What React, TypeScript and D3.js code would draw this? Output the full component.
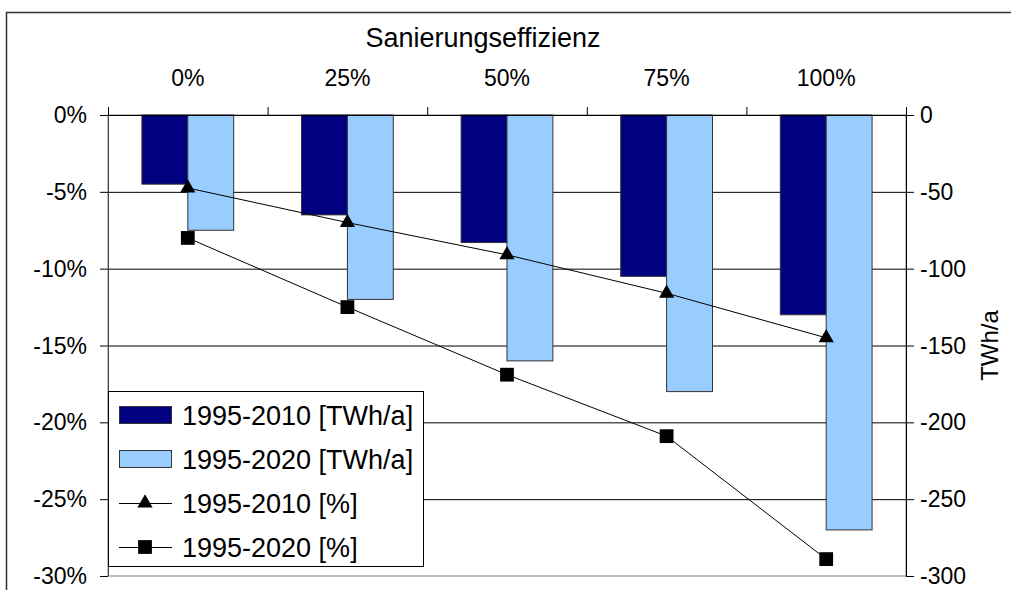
import React from 'react';
import * as d3 from 'd3';

const categories = ['0%', '25%', '50%', '75%', '100%'];
const twh2010 = [-45, -65, -83, -105, -130];
const twh2020 = [-75, -120, -160, -180, -270];
const pct2010 = [-4.75, -7.0, -9.1, -11.6, -14.5];
const pct2020 = [-8.0, -12.5, -16.9, -20.9, -28.9];
const leftTicks = [0, -5, -10, -15, -20, -25, -30];
const rightTicks = [0, -50, -100, -150, -200, -250, -300];
const legendLabels = ['1995-2010 [TWh/a]', '1995-2020 [TWh/a]', '1995-2010 [%]', '1995-2020 [%]'];

const W = 1011;
const H = 590;
const plot = { left: 108, right: 906, top: 115, bottom: 576 };
const font = 'Arial, "Liberation Sans", sans-serif';

export default function App() {
  const x = d3.scaleBand().domain(categories).range([plot.left, plot.right]);
  const yPct = d3.scaleLinear().domain([-30, 0]).range([plot.bottom, plot.top]);
  const yTwh = d3.scaleLinear().domain([-300, 0]).range([plot.bottom, plot.top]);
  const barW = x.bandwidth() * 0.2875;
  const mid = (c: string) => (x(c) as number) + x.bandwidth() / 2;

  const line = d3
    .line<number>()
    .x((_, i) => mid(categories[i]))
    .y((d) => yPct(d));
  const tri = d3.symbol(d3.symbolTriangle, 100)() as string;
  const sq = d3.symbol(d3.symbolSquare, 190)() as string;

  const bounds = x.domain().map((c) => x(c) as number).concat([plot.right]);

  return (
    <svg width={W} height={H} style={{ position: 'absolute', left: 0, top: 0 }} fontFamily={font}>
      <rect x={0} y={0} width={W} height={H} fill="#fff" />
      {/* chart frame, runs past the picture on the right and bottom */}
      <rect x={6.5} y={12.5} width={W + 20} height={H + 20} fill="none" stroke="#333" strokeWidth={1.5} />

      <text x={483} y={47} textAnchor="middle" fontSize={27}>Sanierungseffizienz</text>
      {categories.map((c) => (
        <text key={c} x={mid(c)} y={86} textAnchor="middle" fontSize={23}>{c}</text>
      ))}

      <rect x={plot.left} y={plot.top} width={plot.right - plot.left} height={plot.bottom - plot.top} fill="none" stroke="#808080" />

      {/* gridlines + left ticks */}
      {leftTicks.map((t) => (
        <g key={t}>
          {t !== -30 && (
            <line x1={plot.left - 8} x2={plot.right} y1={yPct(t) + 0.5} y2={yPct(t) + 0.5} stroke="#000" />
          )}
          {t === -30 && <line x1={plot.left - 8} x2={plot.left} y1={yPct(t) + 0.5} y2={yPct(t) + 0.5} stroke="#000" />}
          <text x={87} y={yPct(t) + 8} textAnchor="end" fontSize={23}>{t + '%'}</text>
        </g>
      ))}

      {/* right axis */}
      <line x1={plot.right + 0.5} x2={plot.right + 0.5} y1={plot.top} y2={plot.bottom} stroke="#000" />
      {rightTicks.map((t) => (
        <g key={t}>
          <line x1={plot.right} x2={plot.right + 8} y1={yTwh(t) + 0.5} y2={yTwh(t) + 0.5} stroke="#000" />
          <text x={920} y={yTwh(t) + 8} fontSize={23}>{t}</text>
        </g>
      ))}
      <text transform={`translate(998,${(plot.top + plot.bottom) / 2}) rotate(-90)`} textAnchor="middle" fontSize={24}>TWh/a</text>

      {/* bars */}
      {categories.map((c, i) => (
        <g key={c}>
          <rect x={mid(c) - barW} y={yTwh(0)} width={barW} height={yTwh(twh2010[i]) - yTwh(0)} fill="#000080" stroke="#333" strokeWidth={1} />
          <rect x={mid(c)} y={yTwh(0)} width={barW} height={yTwh(twh2020[i]) - yTwh(0)} fill="#99CCFF" stroke="#333" strokeWidth={1} />
        </g>
      ))}

      {/* left axis + category ticks */}
      <line x1={plot.left + 0.5} x2={plot.left + 0.5} y1={plot.top} y2={plot.bottom} stroke="#444" />
      <line x1={plot.left} x2={plot.right} y1={plot.top + 0.5} y2={plot.top + 0.5} stroke="#000" />
      {bounds.map((b, i) => (
        <line key={i} x1={b + 0.5} x2={b + 0.5} y1={plot.top - 8} y2={plot.top} stroke="#000" />
      ))}

      {/* lines */}
      <path d={line(pct2010) as string} fill="none" stroke="#000" strokeWidth={1} />
      <path d={line(pct2020) as string} fill="none" stroke="#000" strokeWidth={1} />
      {categories.map((c, i) => (
        <g key={c}>
          <path d={tri} transform={`translate(${mid(c)},${yPct(pct2010[i])})`} fill="#000" />
          <path d={sq} transform={`translate(${mid(c)},${yPct(pct2020[i])})`} fill="#000" />
        </g>
      ))}

      {/* legend */}
      <g>
        <rect x={108.5} y={391.5} width={315} height={175} fill="#fff" stroke="#000" />
        {legendLabels.map((l, i) => {
          const cy = 415 + i * 44;
          return (
            <g key={l}>
              {i === 0 && <rect x={119.5} y={cy - 8.5} width={52} height={17} fill="#000080" stroke="#333" />}
              {i === 1 && <rect x={119.5} y={cy - 8.5} width={52} height={17} fill="#99CCFF" stroke="#333" />}
              {i >= 2 && <line x1={119} x2={172} y1={cy + 0.5} y2={cy + 0.5} stroke="#000" />}
              {i === 2 && <path d={tri} transform={`translate(145,${cy})`} fill="#000" />}
              {i === 3 && <path d={sq} transform={`translate(145,${cy})`} fill="#000" />}
              <text x={182} y={cy + 10} fontSize={27}>{l}</text>
            </g>
          );
        })}
      </g>
    </svg>
  );
}
